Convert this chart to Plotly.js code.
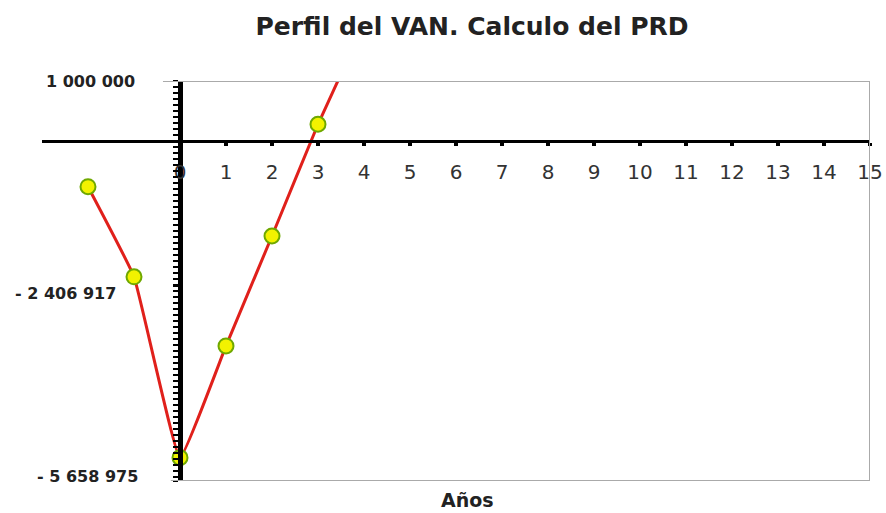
<!DOCTYPE html>
<html>
<head>
<meta charset="utf-8">
<script src="https://cdn.plot.ly/plotly-3.0.1.min.js"></script>
<style>html,body{margin:0;padding:0;background:#fff;}#chart{width:886px;height:513px;}</style>
</head>
<body>
<div id="chart"></div>
<script>
// Data
const years = [-2, -1, 0, 1, 2, 3, 4];
const van = [-760000, -2260000, -5270000, -3410000, -1580000, 280000, 1950000];
const xTicks = [0, 1, 2, 3, 4, 5, 6, 7, 8, 9, 10, 11, 12, 13, 14, 15];
const yTickVals = [1000000, -2406917, -5658975];
const yTickText = ["1 000 000", "- 2 406 917", "- 5 658 975"];
const xRange = [-3, 15];
const yRange = [-5658975, 1000000];

const yAxisPos = (0 - xRange[0]) / (xRange[1] - xRange[0]);
const xAxisPos = (0 - yRange[0]) / (yRange[1] - yRange[0]);

const labelShiftX = [-43, -62, -40];
const labelShiftY = [0, -8, 5];

const annotations = yTickText.map((t, i) => ({
  xref: 'paper', yref: 'y', x: yAxisPos, y: yTickVals[i],
  xanchor: 'right', yanchor: 'middle', showarrow: false,
  xshift: labelShiftX[i], yshift: labelShiftY[i],
  text: t, font: {family: 'DejaVu Sans', size: 16, color: '#222', weight: 'bold'}
}));
annotations.push({
  xref: 'paper', yref: 'paper', x: (468 - 42) / 828, y: 0, yshift: -19,
  xanchor: 'center', yanchor: 'middle', showarrow: false,
  text: '<b>Años</b>', font: {family: 'DejaVu Sans', size: 19, color: '#222'}
});

const trace = {
  x: years, y: van, type: 'scatter', mode: 'lines+markers',
  line: {color: '#e0201b', width: 3, shape: 'spline', smoothing: 0.3},
  marker: {size: 15, color: '#f2f200', line: {color: '#6fa800', width: 2}},
  hoverinfo: 'skip'
};

const layout = {
  width: 886, height: 513,
  margin: {l: 42, r: 16, t: 81, b: 32},
  paper_bgcolor: '#fff', plot_bgcolor: '#fff',
  showlegend: false,
  title: {
    text: '<b>Perfil del VAN. Calculo del PRD</b>',
    x: 472 / 886, xanchor: 'center', y: 1 - 26 / 513, yanchor: 'middle',
    font: {family: 'DejaVu Sans', size: 25, color: '#222'}
  },
  xaxis: {
    range: xRange, anchor: 'free', position: xAxisPos,
    showgrid: false, zeroline: false,
    showline: true, linecolor: '#000', linewidth: 3,
    tickvals: xTicks, ticks: 'outside', ticklen: 3, tickwidth: 4, tickcolor: '#000',
    ticklabelstandoff: 9,
    tickfont: {family: 'DejaVu Sans', size: 20, color: '#333'}
  },
  yaxis: {
    range: yRange, anchor: 'free', position: yAxisPos,
    showgrid: false, zeroline: false,
    showline: true, linecolor: '#000', linewidth: 5,
    tickvals: yTickVals, ticks: 'outside', ticklen: 5, tickwidth: 2, tickcolor: '#000',
    showticklabels: false,
    minor: {dtick: 100000, tick0: 0, ticks: 'outside', ticklen: 5, tickwidth: 2, tickcolor: '#000'}
  },
  shapes: [
    {type: 'line', xref: 'x', yref: 'y', x0: -0.37, x1: xRange[1], y0: yRange[1], y1: yRange[1], line: {color: '#aaa', width: 2}},
    {type: 'line', xref: 'x', yref: 'y', x0: xRange[1], x1: xRange[1], y0: yRange[0], y1: yRange[1], line: {color: '#aaa', width: 2}},
    {type: 'line', xref: 'x', yref: 'y', x0: -0.2, x1: xRange[1], y0: yRange[0], y1: yRange[0], line: {color: '#aaa', width: 2}}
  ],
  annotations: annotations
};

Plotly.newPlot('chart', [trace], layout, {displayModeBar: false, staticPlot: true});
</script>
</body>
</html>
